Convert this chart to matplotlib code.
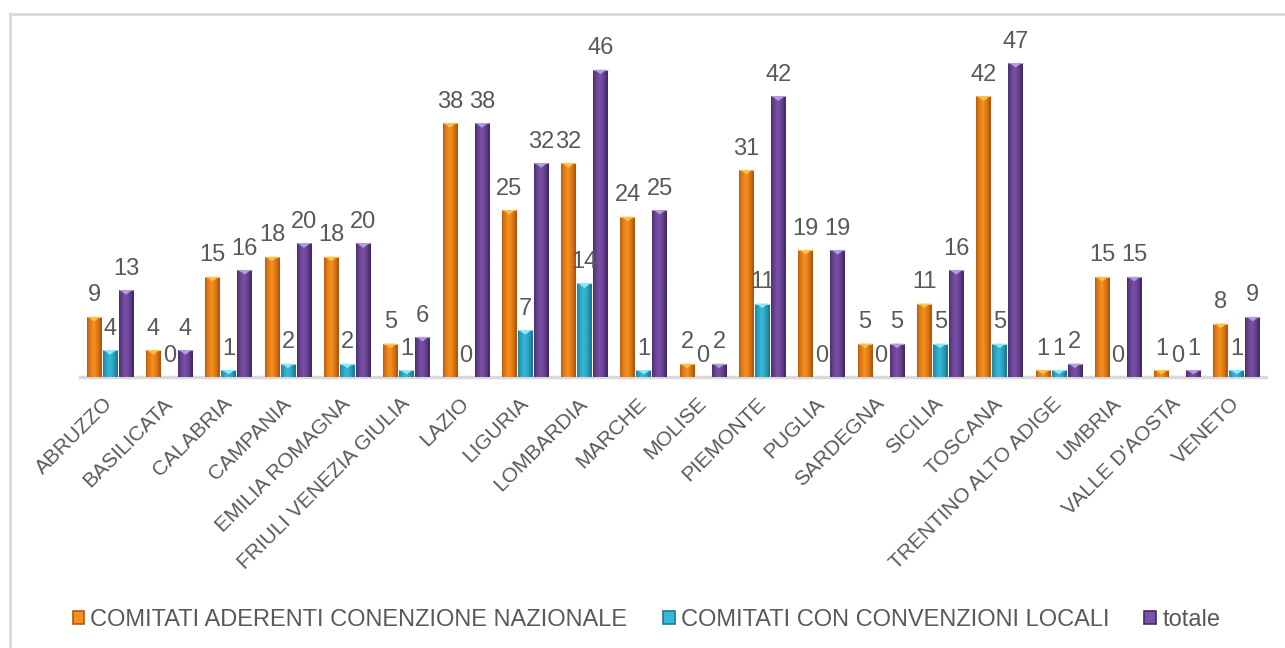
import matplotlib
matplotlib.use("Agg")
import matplotlib.pyplot as plt
import numpy as np
from matplotlib.patches import Polygon, Patch
from matplotlib.lines import Line2D
from matplotlib.colors import to_rgb

regions = ["ABRUZZO", "BASILICATA", "CALABRIA", "CAMPANIA", "EMILIA ROMAGNA",
           "FRIULI VENEZIA GIULIA", "LAZIO", "LIGURIA", "LOMBARDIA", "MARCHE",
           "MOLISE", "PIEMONTE", "PUGLIA", "SARDEGNA", "SICILIA", "TOSCANA",
           "TRENTINO ALTO ADIGE", "UMBRIA", "VALLE D'AOSTA", "VENETO"]
nazionale = [9, 4, 15, 18, 18, 5, 38, 25, 32, 24, 2, 31, 19, 5, 11, 42, 1, 15, 1, 8]
locali = [4, 0, 1, 2, 2, 1, 0, 7, 14, 1, 0, 11, 0, 0, 5, 5, 1, 0, 0, 1]
totale = [13, 4, 16, 20, 20, 6, 38, 32, 46, 25, 2, 42, 19, 5, 16, 47, 2, 15, 1, 9]
series_names = ["COMITATI ADERENTI CONENZIONE NAZIONALE",
                "COMITATI CON CONVENZIONI LOCALI", "totale"]

# (edge, mid, top-triangle)
palette = [
    ("#B4570C", "#F7901F", "#FBC24A"),
    ("#1A7C95", "#36B9D9", "#8FE6F7"),
    ("#452A68", "#7A50A8", "#B49BDD"),
]
txt_color = "#595959"
plt.rcParams['font.family'] = ['Liberation Sans', 'DejaVu Sans']

W, H = 1285, 648
fig = plt.figure(figsize=(W / 100, H / 100), dpi=100)
ax = fig.add_axes([80.4 / W, 271 / H, 1186 / W, 334 / H])

x = np.arange(len(regions))
bw = 0.245
offs = [-0.27, 0.0, 0.27]
all_series = [nazionale, locali, totale]

ymax = 50
px_per_unit = 334 / ymax

def gradient_img(edge, mid):
    e = np.array(to_rgb(edge)); m = np.array(to_rgb(mid))
    t = np.linspace(0, 1, 64)
    prof = np.clip(1 - np.abs(t - 0.45) / 0.45, 0, 1) ** 0.6
    img = e[None, :] * (1 - prof[:, None]) + m[None, :] * prof[:, None]
    return img[None, :, :]

for vals, off, (edge, mid, top) in zip(all_series, offs, palette):
    bars = ax.bar(x + off, vals, width=bw, color=mid, edgecolor="none", zorder=2)
    img = gradient_img(edge, mid)
    for rect, v in zip(bars, vals):
        if v <= 0:
            continue
        x0, w, h = rect.get_x(), rect.get_width(), rect.get_height()
        im = ax.imshow(img, extent=[x0, x0 + w, 0, h], aspect="auto",
                       interpolation="bilinear", zorder=3)
        im.set_clip_path(rect)
        th = min(4.5 / px_per_unit, h * 0.6)
        tri = Polygon([[x0 + w * 0.08, h], [x0 + w * 0.92, h], [x0 + w / 2, h - th]],
                      closed=True, facecolor=top, edgecolor="none", zorder=4)
        ax.add_patch(tri)
        ax.plot([x0, x0 + w], [h, h], color=top, lw=0.8, zorder=4, solid_capstyle="butt")
    for rect, v in zip(bars, vals):
        ax.annotate(str(v), (rect.get_x() + rect.get_width() / 2, rect.get_height()),
                    xytext=(0, 7.5), textcoords="offset points", ha="center", va="bottom",
                    fontsize=17, color=txt_color, zorder=5)

ax.set_xlim(-0.5, len(regions) - 0.5)
ax.set_ylim(0, ymax)
for s in ["top", "right", "left"]:
    ax.spines[s].set_visible(False)
ax.spines["bottom"].set_color("#D9D9D9")
ax.spines["bottom"].set_linewidth(2.5)
ax.set_yticks([])
ax.set_xticks(x)
ax.set_xticklabels(regions, rotation=45, ha="right", va="center",
                   rotation_mode="anchor", fontsize=15, color=txt_color)
ax.tick_params(axis="x", length=0, pad=17)
ax.patch.set_alpha(0)

handles = [Patch(facecolor=mid, edgecolor=edge, linewidth=1.2) for (edge, mid, top) in palette]
fig.legend(handles, series_names, loc="center", bbox_to_anchor=(0.503, 0.043),
           ncol=3, frameon=False, fontsize=17, labelcolor=txt_color,
           handlelength=0.5, handleheight=0.5, handletextpad=0.25,
           columnspacing=1.5)

# outer frame
fx = 10 / W; fy = 1 - 14 / H
fig.add_artist(Line2D([fx, fx], [0, fy], transform=fig.transFigure, color="#D9D9D9", lw=2))
fig.add_artist(Line2D([fx, 1], [fy, fy], transform=fig.transFigure, color="#D9D9D9", lw=2))

fig.savefig("out.png", dpi=100)
